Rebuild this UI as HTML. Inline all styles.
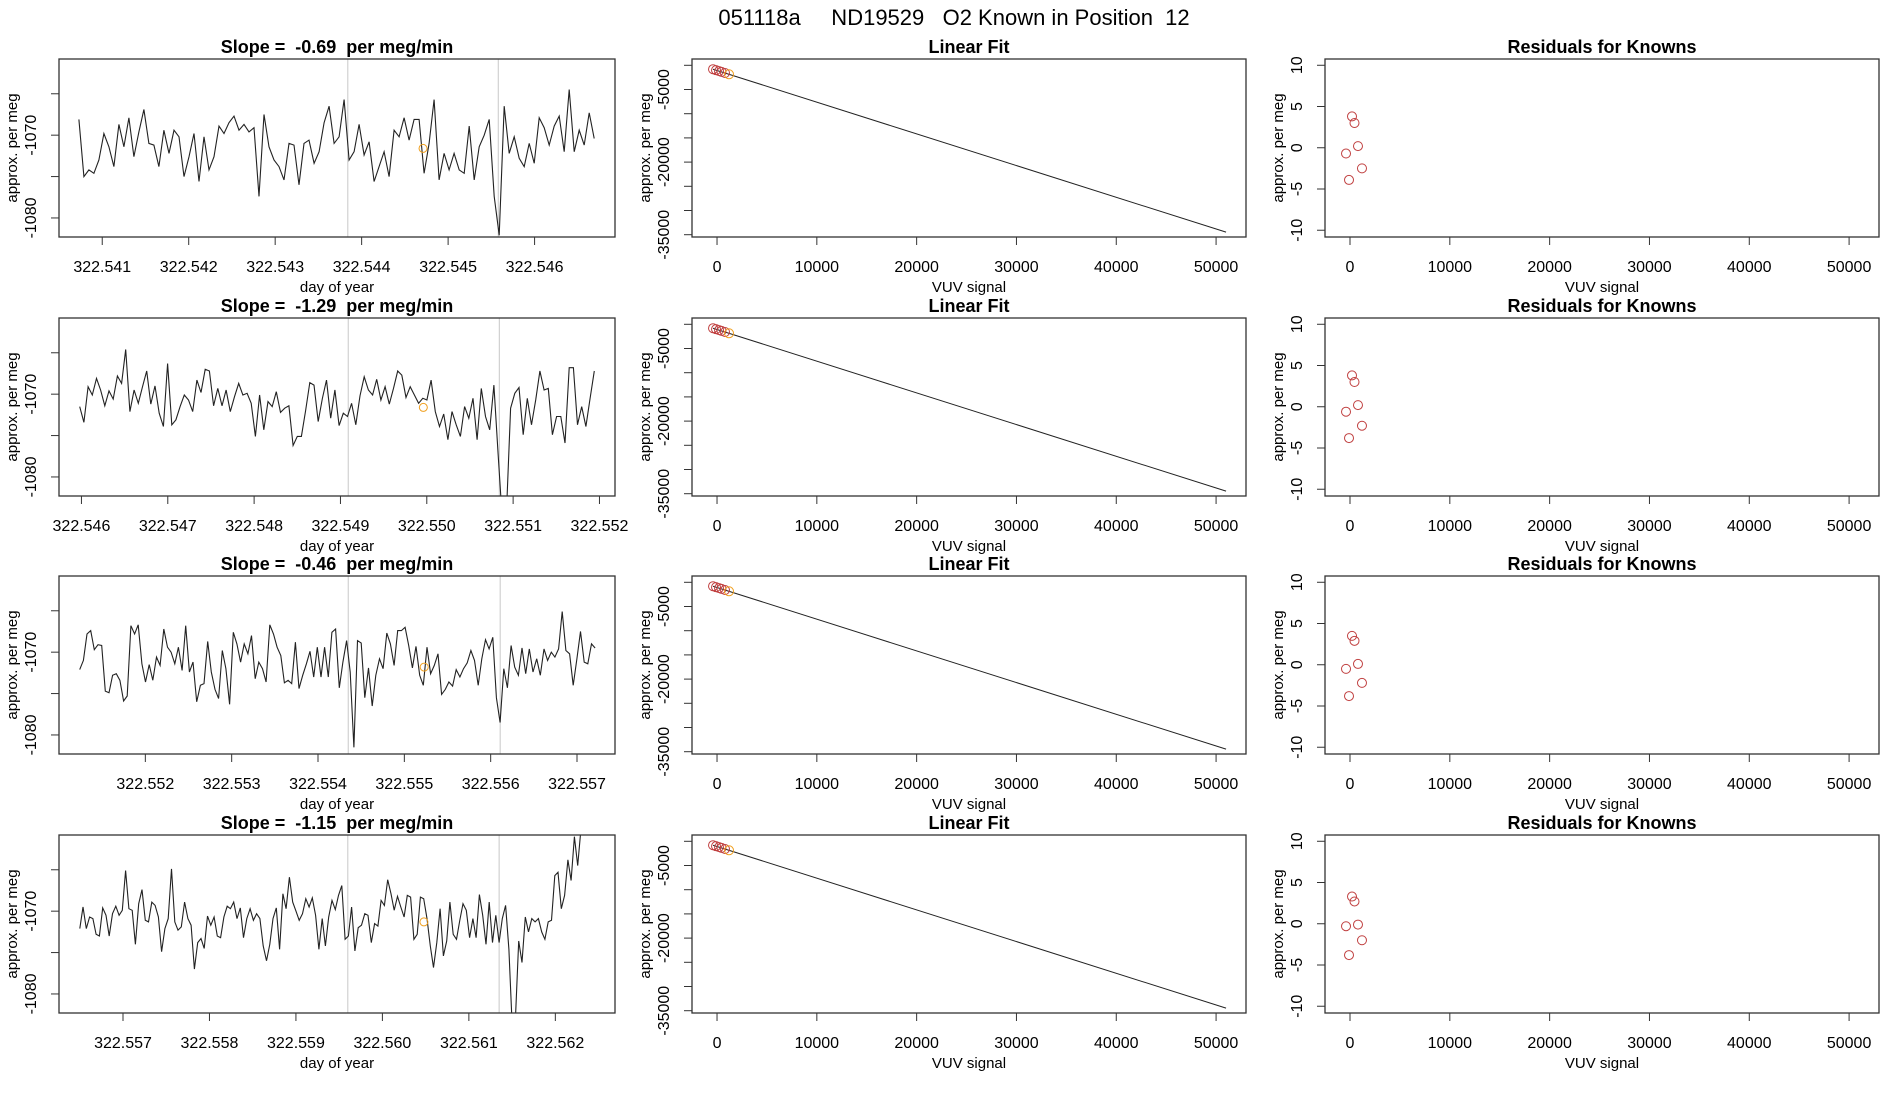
<!DOCTYPE html>
<html><head><meta charset="utf-8"><style>
html,body{margin:0;padding:0;background:#fff;}
svg{display:block;font-family:"Liberation Sans",sans-serif;}
</style></head><body>
<svg id="fig" width="1900" height="1100" viewBox="0 0 1900 1100">
<text x="954" y="25" font-size="22" text-anchor="middle">051118a&#160;&#160;&#160;&#160;&#160;ND19529&#160;&#160;&#160;O2 Known in Position&#160;&#160;12</text>
</svg>
<script>
// ---------- data ----------
const slopes = ["-0.69", "-1.29", "-0.46", "-1.15"];
const timeStart = [322.54073, 322.54598, 322.55124, 322.5565];
const timeEnd = [322.54669, 322.55194, 322.55721, 322.56241];
const xTickLabels0 = ["322.541","322.542","322.543","322.544","322.545","322.546"];
const xTickLabels1 = ["322.546","322.547","322.548","322.549","322.550","322.551","322.552"];
const xTickLabels2 = ["322.552","322.553","322.554","322.555","322.556","322.557"];
const xTickLabels3 = ["322.557","322.558","322.559","322.560","322.561","322.562"];
const xDomainMin = [322.5405, 322.54574, 322.551, 322.55626];
const xDomainMax = [322.54693, 322.55218, 322.55744, 322.56269];
const series0 = [-1068.1,-1075.0,-1074.2,-1074.6,-1073.0,-1069.8,-1071.4,-1073.8,-1068.7,-1071.4,-1067.9,-1072.6,-1069.6,-1066.9,-1071.0,-1071.2,-1073.8,-1069.4,-1072.2,-1069.4,-1070.2,-1075.0,-1072.6,-1069.8,-1075.6,-1070.2,-1074.2,-1072.6,-1068.9,-1069.8,-1068.5,-1067.7,-1069.4,-1068.7,-1069.6,-1069.1,-1077.4,-1067.5,-1071.4,-1073.0,-1073.8,-1075.4,-1071.0,-1071.2,-1076.0,-1071.0,-1070.6,-1073.4,-1072.0,-1068.5,-1066.5,-1071.0,-1070.2,-1065.7,-1073.0,-1072.0,-1068.7,-1072.4,-1070.8,-1075.6,-1073.8,-1072.0,-1075.0,-1069.4,-1070.2,-1067.9,-1070.6,-1068.1,-1068.1,-1074.6,-1071.0,-1065.7,-1075.4,-1072.2,-1074.2,-1072.2,-1074.2,-1074.6,-1068.9,-1075.4,-1071.4,-1070.0,-1068.1,-1077.4,-1082.1,-1066.5,-1072.2,-1070.2,-1072.8,-1073.8,-1071.0,-1073.4,-1067.9,-1069.1,-1071.2,-1068.9,-1067.7,-1072.0,-1064.5,-1072.0,-1069.4,-1071.2,-1067.3,-1070.4];
const series1 = [-1071.5,-1073.4,-1069.1,-1070.1,-1068.1,-1069.5,-1071.4,-1069.6,-1070.6,-1067.8,-1068.7,-1064.6,-1072.1,-1069.5,-1071.1,-1069.1,-1067.2,-1071.2,-1069.0,-1072.3,-1073.9,-1066.3,-1073.7,-1073.1,-1071.5,-1070.1,-1070.7,-1072.1,-1068.3,-1069.8,-1067.0,-1067.2,-1071.4,-1069.3,-1071.4,-1069.5,-1072.1,-1070.3,-1068.7,-1070.1,-1069.9,-1071.1,-1075.1,-1070.1,-1074.3,-1070.9,-1071.5,-1069.7,-1072.2,-1071.7,-1071.4,-1076.2,-1075.1,-1075.1,-1072.0,-1068.6,-1068.9,-1073.3,-1070.5,-1068.3,-1072.9,-1069.5,-1073.8,-1072.3,-1072.7,-1071.1,-1073.7,-1070.2,-1067.9,-1069.5,-1070.1,-1068.2,-1070.7,-1069.1,-1071.2,-1069.3,-1067.2,-1067.7,-1070.4,-1069.1,-1070.1,-1071.1,-1070.5,-1070.7,-1068.3,-1072.1,-1073.9,-1072.4,-1075.5,-1072.1,-1073.7,-1075.1,-1071.5,-1072.9,-1070.5,-1075.5,-1069.3,-1072.7,-1074.3,-1068.9,-1077.2,-1085.0,-1084.5,-1071.7,-1069.9,-1069.2,-1074.9,-1070.5,-1073.7,-1070.7,-1067.2,-1069.5,-1069.3,-1074.9,-1072.7,-1072.7,-1075.9,-1066.8,-1066.8,-1073.7,-1071.5,-1073.9,-1070.5,-1067.2];
const series2 = [-1072.1,-1071.0,-1067.8,-1067.4,-1069.7,-1069.1,-1069.2,-1074.7,-1074.9,-1072.8,-1072.6,-1073.4,-1075.9,-1075.3,-1066.8,-1067.8,-1066.7,-1071.4,-1073.6,-1071.5,-1073.4,-1070.6,-1071.6,-1067.2,-1069.4,-1070.0,-1071.4,-1069.4,-1072.2,-1066.8,-1072.4,-1071.2,-1076.0,-1074.0,-1073.8,-1068.7,-1072.4,-1074.5,-1075.6,-1069.8,-1072.0,-1076.3,-1067.6,-1069.0,-1071.2,-1069.0,-1070.2,-1068.0,-1073.2,-1071.2,-1072.0,-1073.6,-1066.7,-1067.8,-1069.4,-1070.4,-1073.7,-1073.4,-1073.8,-1068.8,-1074.4,-1072.8,-1071.4,-1069.9,-1073.0,-1069.4,-1073.0,-1069.4,-1073.0,-1067.6,-1067.2,-1074.3,-1071.2,-1068.6,-1072.4,-1081.5,-1068.6,-1068.9,-1075.5,-1071.9,-1076.5,-1072.8,-1070.8,-1072.0,-1067.7,-1069.0,-1071.6,-1067.4,-1067.4,-1067.0,-1069.2,-1071.9,-1069.3,-1072.8,-1074.0,-1069.4,-1072.6,-1071.6,-1070.2,-1075.1,-1074.5,-1073.6,-1074.1,-1072.1,-1073.0,-1072.0,-1071.3,-1069.8,-1071.0,-1074.0,-1070.8,-1068.5,-1069.6,-1068.2,-1075.5,-1078.5,-1072.0,-1074.3,-1069.2,-1071.8,-1072.8,-1069.5,-1072.6,-1069.6,-1072.4,-1070.8,-1072.8,-1069.6,-1071.0,-1070.0,-1070.6,-1069.6,-1065.1,-1069.8,-1070.2,-1074.0,-1070.8,-1067.5,-1071.2,-1071.4,-1069.0,-1069.5];
const series3 = [-1072.1,-1069.5,-1072.1,-1070.7,-1070.9,-1072.8,-1073.0,-1069.6,-1070.5,-1073.0,-1070.3,-1069.4,-1070.5,-1069.9,-1065.1,-1069.7,-1069.9,-1074.0,-1069.1,-1067.4,-1071.1,-1071.3,-1068.9,-1069.3,-1070.7,-1074.9,-1072.1,-1070.9,-1064.9,-1071.3,-1072.3,-1071.9,-1068.9,-1070.9,-1071.7,-1077.0,-1073.8,-1073.3,-1074.5,-1070.6,-1071.7,-1070.7,-1073.0,-1073.2,-1070.7,-1069.4,-1069.7,-1068.9,-1070.9,-1069.6,-1073.2,-1070.9,-1069.7,-1071.1,-1070.3,-1070.9,-1074.2,-1076.0,-1074.0,-1070.9,-1069.6,-1074.6,-1067.9,-1069.7,-1065.9,-1068.9,-1070.0,-1071.1,-1070.3,-1068.5,-1069.5,-1068.4,-1070.5,-1074.6,-1070.9,-1074.2,-1070.7,-1068.7,-1069.8,-1068.1,-1066.9,-1073.4,-1073.0,-1069.5,-1074.8,-1072.0,-1071.7,-1070.3,-1070.5,-1073.8,-1071.5,-1071.8,-1068.7,-1069.3,-1066.2,-1067.9,-1069.9,-1068.2,-1069.5,-1070.7,-1068.1,-1068.3,-1073.4,-1072.8,-1068.3,-1068.5,-1070.9,-1074.2,-1076.8,-1073.8,-1069.7,-1075.4,-1073.6,-1068.9,-1072.8,-1073.4,-1071.1,-1069.1,-1069.9,-1073.2,-1070.9,-1073.2,-1068.0,-1070.5,-1074.0,-1068.9,-1073.8,-1070.5,-1073.8,-1070.9,-1069.3,-1074.6,-1083.9,-1083.1,-1073.6,-1076.2,-1070.7,-1072.5,-1070.9,-1071.3,-1070.9,-1072.5,-1073.4,-1071.3,-1071.1,-1065.7,-1065.3,-1069.7,-1068.1,-1063.8,-1066.3,-1061.0,-1064.5,-1060.0,-1059.6,-1059.8,-1059.8];
const markerTime = [322.54471, 322.54996, 322.55523, 322.56048];
const markerValue = [-1071.6, -1071.6, -1071.8, -1071.3];
const greyLine1 = [322.54384, 322.54909, 322.55435, 322.5596];
const greyLine2 = [322.54558, 322.55084, 322.55611, 322.56135];
const leftYTicks = [-1065, -1070, -1075, -1080];
const leftYLabels = ["", "-1070", "", "-1080"];
const vuvTicks = [0, 10000, 20000, 30000, 40000, 50000];
const fitYTicks = [0, -5000, -10000, -15000, -20000, -25000, -30000, -35000];
const fitYLabels = ["", "-5000", "", "", "-20000", "", "", "-35000"];
const knownSignal = [-400, -100, 200, 450, 800, 1200];
const fitIntercept = -1070;
const fitSlope = -0.655;
const fitLineEnd = 51000;
const resid0 = [-0.7, -3.9, 3.8, 3.0, 0.2, -2.5];
const resid1 = [-0.6, -3.8, 3.8, 3.0, 0.2, -2.3];
const resid2 = [-0.5, -3.8, 3.5, 2.9, 0.1, -2.2];
const resid3 = [-0.3, -3.8, 3.3, 2.7, -0.1, -2.0];
const residTicks = [10, 5, 0, -5, -10];

// ---------- drawing ----------
const NS = "http://www.w3.org/2000/svg";
const svg = document.getElementById("fig");
function mk(tag, attrs, parent) {
  const e = document.createElementNS(NS, tag);
  for (const k in attrs) e.setAttribute(k, attrs[k]);
  (parent || svg).appendChild(e);
  return e;
}
const allSeries = [series0, series1, series2, series3];
const allXT = [xTickLabels0, xTickLabels1, xTickLabels2, xTickLabels3];
const allResid = [resid0, resid1, resid2, resid3];
const rowTop = [59, 318, 576, 835];
const boxH = 178;
const P1 = {x0: 59, x1: 615}, P2 = {x0: 692, x1: 1246}, P3 = {x0: 1325, x1: 1879};
const SP = "\u00a0";

function scale(d0, d1, r0, r1) { return v => r0 + (v - d0) / (d1 - d0) * (r1 - r0); }

function frame(g, x0, x1, top, title, xlab) {
  const b = mk("rect", {x: x0, y: top, width: x1 - x0, height: boxH, fill: "none", stroke: "#333", "stroke-width": 1.3}, g);
  
  
  const t = mk("text", {x: (x0 + x1) / 2, y: top - 6, "font-size": 18, "font-weight": "bold", "text-anchor": "middle"}, g);
  t.textContent = title;
  
  
  const xl = mk("text", {x: (x0 + x1) / 2, y: top + boxH + 55, "font-size": 15, "text-anchor": "middle"}, g);
  xl.textContent = xlab;
  
  
}
function xTick(g, px, top, label) {
  mk("line", {x1: px, x2: px, y1: top + boxH, y2: top + boxH + 8, stroke: "#333", "stroke-width": 1}, g);
  const t = mk("text", {x: px, y: top + boxH + 35, "font-size": 16, "text-anchor": "middle"}, g);
  t.textContent = label;
  
  
}
function yTick(g, x0, py, label, labX) {
  mk("line", {x1: x0, x2: x0 - 8, y1: py, y2: py, stroke: "#333", "stroke-width": 1}, g);
  if (label) {
    const t = mk("text", {x: labX, y: py, "font-size": 16, "text-anchor": "middle", transform: `rotate(-90 ${labX} ${py})`}, g);
    t.textContent = label;
    
    
  }
}
function yTitle(g, x, top, text) {
  const cy = top + boxH / 2;
  const t = mk("text", {x: x, y: cy, "font-size": 15, "text-anchor": "middle", transform: `rotate(-90 ${x} ${cy})`}, g);
  t.textContent = text;
  
  
}

const defs = mk("defs", {});
for (let r = 0; r < 4; r++) {
  const top = rowTop[r];
  const cp = mk("clipPath", {id: "clip" + r}, defs);
  mk("rect", {x: P1.x0, y: top, width: P1.x1 - P1.x0, height: boxH}, cp);

  // ---- panel 1: time series
  const g1 = mk("g", {});
  
  
  const xs = scale(xDomainMin[r], xDomainMax[r], P1.x0, P1.x1);
  const ys = scale(-1082.3, -1060.8, top + boxH, top);
  [greyLine1[r], greyLine2[r]].forEach(t => {
    const l = mk("line", {x1: xs(t), x2: xs(t), y1: top, y2: top + boxH, stroke: "#c8c8c8", "stroke-width": 1}, g1);
    
    
  });
  const s = allSeries[r];
  const n = s.length;
  let d = "";
  s.forEach((v, i) => {
    const t = timeStart[r] + (timeEnd[r] - timeStart[r]) * i / (n - 1);
    d += (i ? "L" : "M") + xs(t).toFixed(1) + "," + ys(v).toFixed(1);
  });
  const path = mk("path", {d: d, fill: "none", stroke: "#222", "stroke-width": 1.1, "clip-path": `url(#clip${r})`}, g1);
  
  
  const oc = mk("circle", {cx: xs(markerTime[r]), cy: ys(markerValue[r]), r: 4, fill: "none", stroke: "#f0a020", "stroke-width": 1}, g1);
  
  
  frame(g1, P1.x0, P1.x1, top, "Slope =" + SP + SP + slopes[r] + SP + SP + "per meg/min", "day of year");
  allXT[r].forEach(lbl => xTick(g1, xs(parseFloat(lbl)), top, lbl));
  leftYTicks.forEach((v, i) => yTick(g1, P1.x0, ys(v), leftYLabels[i], 36));
  yTitle(g1, 17, top, "approx. per meg");

  // ---- panel 2: linear fit
  const g2 = mk("g", {});
  
  
  const xs2 = scale(-2507, 52998, P2.x0, P2.x1);
  const ys2 = scale(-35475, 1302, top + boxH, top);
  const fl = mk("line", {x1: xs2(knownSignal[0]), y1: ys2(fitIntercept + fitSlope * knownSignal[0]), x2: xs2(fitLineEnd), y2: ys2(fitIntercept + fitSlope * fitLineEnd), stroke: "#222", "stroke-width": 1}, g2);
  
  
  knownSignal.forEach((x, i) => {
    const c = mk("circle", {cx: xs2(x), cy: ys2(fitIntercept + fitSlope * x + allResid[r][i]), r: 4.5, fill: "none", stroke: i === knownSignal.length - 1 ? "#f0a020" : "#c04040", "stroke-width": 1}, g2);
    
    
  });
  frame(g2, P2.x0, P2.x1, top, "Linear Fit", "VUV signal");
  vuvTicks.forEach(v => xTick(g2, xs2(v), top, String(v)));
  fitYTicks.forEach((v, i) => yTick(g2, P2.x0, ys2(v), fitYLabels[i], 669));
  yTitle(g2, 650, top, "approx. per meg");

  // ---- panel 3: residuals
  const g3 = mk("g", {});
  
  
  const xs3 = scale(-2505, 52996, P3.x0, P3.x1);
  const ys3 = scale(-10.82, 10.76, top + boxH, top);
  knownSignal.forEach((x, i) => {
    const c = mk("circle", {cx: xs3(x), cy: ys3(allResid[r][i]), r: 4.5, fill: "none", stroke: "#c04040", "stroke-width": 1}, g3);
    
    
  });
  frame(g3, P3.x0, P3.x1, top, "Residuals for Knowns", "VUV signal");
  vuvTicks.forEach(v => xTick(g3, xs3(v), top, String(v)));
  residTicks.forEach(v => yTick(g3, P3.x0, ys3(v), String(v), 1302));
  yTitle(g3, 1283, top, "approx. per meg");
}
</script>
</body></html>
